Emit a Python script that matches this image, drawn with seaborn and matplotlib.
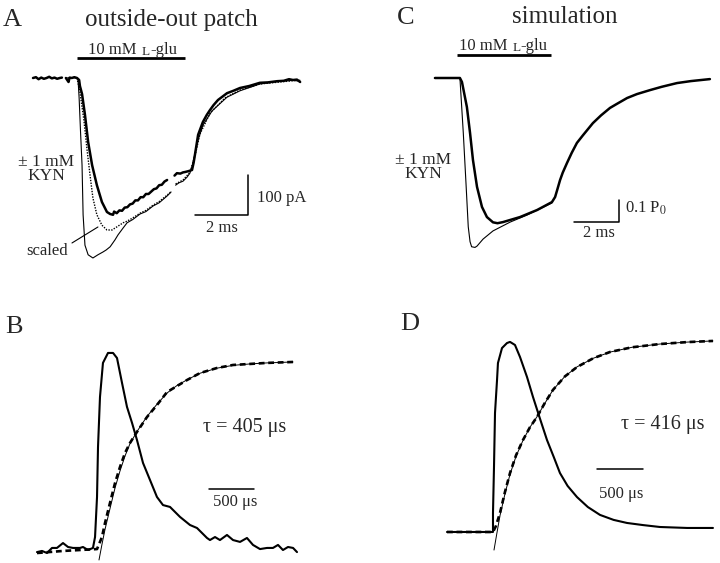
import matplotlib
matplotlib.use("Agg")
import matplotlib.pyplot as plt
import seaborn as sns

# ---------------- panel A: outside-out patch (time ms, current pA) ----------------
a_kyn_pre_t = [-1.66, -1.55, -1.45, -1.35, -1.25, -1.15, -1.05, -0.95, -0.85, -0.75, -0.65, -0.57]
a_kyn_pre_i = [0, 2, -3, 1, -2, 0, 3, -1, 1, -2, 0, 1]
a_kyn_t = [-0.42, -0.36, -0.32, -0.28, -0.2, -0.1, 0.0, 0.08, 0.11, 0.19, 0.30, 0.42, 0.57, 0.75,
           0.94, 1.13, 1.25, 1.36, 1.4, 1.5, 1.6, 1.7, 1.8, 1.9, 2.0, 2.1, 2.2, 2.3, 2.4, 2.5,
           2.6, 2.7, 2.8, 2.9, 3.0, 3.1, 3.2, 3.3, 3.4]
a_kyn_i = [0, -6, -10, 1, 0, 2, 0, -5, -20, -40, -92, -160, -218, -268,
           -310, -335, -340, -342, -334, -338, -331, -332, -324, -323, -316, -314, -306, -306, -298, -298,
           -290, -290, -284, -278, -276, -268, -267, -259, -255]
a_kyn_post_t = [3.68, 3.77, 3.9, 4.0, 4.08, 4.2, 4.34, 4.40, 4.45, 4.57, 4.75, 4.9, 5.02, 5.15, 5.32,
                5.5, 5.66, 5.9, 6.15, 6.5, 6.9, 7.2, 7.55, 7.8, 8.0, 8.15, 8.3, 8.42]
a_kyn_post_i = [-244, -238, -239, -236, -235, -233, -230, -212, -192, -142, -110, -92, -80, -68, -55,
                -46, -38, -32, -25, -20, -12, -11, -8, -7, -3, -5, -4, -10]

a_ctrl_t = [-0.4, -0.2, 0.0, 0.04, 0.08, 0.13, 0.19, 0.23, 0.30, 0.42, 0.60, 0.79, 0.98, 1.1, 1.25,
            1.43, 1.55, 1.74, 1.89, 2.1, 2.38, 2.6, 2.87, 3.1, 3.4, 3.55]
a_ctrl_i = [0, 1, 0, -5, -50, -130, -218, -342, -418, -442, -450, -442, -435, -430, -422,
            -405, -392, -375, -362, -354, -340, -334, -320, -312, -295, -285]
a_ctrl_post_t = [3.72, 3.85, 4.0, 4.15, 4.26, 4.34, 4.45, 4.57, 4.75, 5.1, 5.66, 6.15, 6.9, 7.55, 8.15, 8.42]
a_ctrl_post_i = [-268, -262, -258, -248, -238, -222, -190, -155, -118, -82, -48, -32, -15, -9, -6, -8]

a_scaled_t = [0.0, 0.11, 0.26, 0.38, 0.49, 0.60, 0.75, 0.94, 1.13, 1.32, 1.51, 1.74, 1.89, 2.1,
              2.38, 2.6, 2.87, 3.1, 3.4, 3.55]
a_scaled_i = [0, -35, -105, -180, -242, -300, -342, -368, -380, -380, -372, -362, -358, -350,
              -338, -331, -318, -309, -293, -284]
a_scaled_post_t = [3.72, 4.0, 4.26, 4.45, 4.64, 5.02, 5.58, 6.15, 6.9, 8.42]
a_scaled_post_i = [-265, -255, -236, -195, -140, -88, -50, -30, -15, -5]

a_glu = (0.0, 4.08)          # application, ms
a_bar_ms, a_bar_pa = 2, 100  # scale bars

# ---------------- panel C: simulation (time ms, open probability) ----------------
c_kyn_t = [-0.98, 0.13, 0.22, 0.44, 0.58, 0.71, 0.89, 1.11, 1.33, 1.6, 1.8, 2.04, 2.8, 3.56, 4.22,
           4.36, 4.45, 4.58, 4.7, 4.89, 5.1, 5.33, 5.6, 6.04, 6.4, 6.8, 7.1, 7.56, 8.0, 8.58,
           9.1, 9.78, 10.4, 11.24]
c_kyn_p = [0, 0, -0.018, -0.132, -0.25, -0.373, -0.495, -0.586, -0.632, -0.656, -0.66, -0.655, -0.632, -0.60,
           -0.564, -0.541, -0.51, -0.464, -0.43, -0.386, -0.34, -0.295, -0.26, -0.205, -0.17, -0.136,
           -0.118, -0.091, -0.073, -0.055, -0.04, -0.023, -0.014, -0.005]
c_ctrl_t = [0.13, 0.28, 0.40, 0.50, 0.58, 0.65, 0.8, 0.89, 1.16, 1.6, 2.36, 3.11, 4.22]
c_ctrl_p = [0, -0.25, -0.479, -0.676, -0.744, -0.767, -0.77, -0.764, -0.732, -0.695, -0.655, -0.623, -0.568]
c_glu = (0.0, 4.18)
c_bar_ms, c_bar_p = 2, 0.1

# ---------------- panel B: normalised recording (time ms) ----------------
b_peak_t = [-0.689, -0.633, -0.578, -0.522, -0.467, -0.4, -0.344, -0.289, -0.211, -0.178, -0.122,
            -0.067, -0.044, -0.022, -0.011, 0.011, 0.044, 0.1, 0.156, 0.2, 0.256, 0.311, 0.367,
            0.422, 0.489, 0.567, 0.644, 0.711, 0.789, 0.9, 1.011, 1.089, 1.2, 1.233, 1.289, 1.344,
            1.422, 1.489, 1.567, 1.644, 1.711, 1.789, 1.867, 1.933, 1.989, 2.044, 2.1, 2.156, 2.2]
b_peak_v = [-0.011, -0.005, -0.016, 0.011, 0.011, 0.037, 0.016, 0.011, 0.011, 0.016, 0.0,
            0.011, 0.069, 0.282, 0.548, 0.814, 0.995, 1.048, 1.048, 1.021, 0.888, 0.761, 0.676,
            0.585, 0.463, 0.372, 0.282, 0.239, 0.229, 0.176, 0.133, 0.117, 0.064, 0.053, 0.069, 0.053,
            0.08, 0.053, 0.043, 0.064, 0.027, 0.005, 0.011, 0.011, 0.027, 0.0, 0.016, 0.011, -0.011]
b_rise_t = [-0.689, -0.4, -0.022, 0.033, 0.067, 0.122, 0.178, 0.233, 0.289, 0.344, 0.422, 0.533,
            0.644, 0.756, 0.978, 1.122, 1.311, 1.489, 1.867, 2.156]
b_rise_v = [-0.016, -0.005, 0.005, 0.069, 0.144, 0.25, 0.356, 0.441, 0.516, 0.569, 0.628, 0.707,
            0.771, 0.84, 0.904, 0.941, 0.968, 0.984, 0.995, 1.0]
b_fit_t = [0.0, 0.033, 0.067, 0.122, 0.178, 0.233, 0.289, 0.344, 0.422, 0.533, 0.644, 0.756,
           0.867, 0.978, 1.122, 1.311, 1.489, 1.689, 1.867, 2.156]
b_fit_v = [-0.053, 0.03, 0.11, 0.22, 0.33, 0.42, 0.5, 0.565, 0.63, 0.71, 0.775, 0.835,
           0.875, 0.905, 0.94, 0.967, 0.982, 0.99, 0.995, 1.0]
b_tau_us = 405

# ---------------- panel D: normalised simulation (time ms) ----------------
d_peak_t = [-0.511, -0.011, -0.011, 0.0, 0.011, 0.033, 0.043, 0.087, 0.141, 0.174, 0.228, 0.283,
            0.359, 0.424, 0.5, 0.576, 0.65, 0.717, 0.8, 0.902, 1.02, 1.152, 1.3, 1.446, 1.62,
            1.804, 2.1, 2.38]
d_peak_v = [0, 0, 0.099, 0.339, 0.62, 0.792, 0.88, 0.958, 0.984, 0.99, 0.974, 0.911,
            0.807, 0.703, 0.59, 0.479, 0.39, 0.307, 0.24, 0.182, 0.13, 0.089, 0.063, 0.047, 0.036,
            0.026, 0.021, 0.021]
d_rise_t = [-0.511, -0.011, 0.02, 0.065, 0.12, 0.174, 0.24, 0.315, 0.39, 0.467, 0.55, 0.641,
            0.77, 0.902, 1.08, 1.261, 1.5, 1.804, 2.1, 2.38]
d_rise_v = [0, 0, 0.03, 0.099, 0.21, 0.307, 0.4, 0.479, 0.545, 0.599, 0.67, 0.74,
            0.81, 0.859, 0.905, 0.9375, 0.962, 0.979, 0.989, 0.995]
d_fit_t = [0.0, 0.03, 0.065, 0.12, 0.174, 0.24, 0.315, 0.39, 0.467, 0.55, 0.641, 0.77,
           0.902, 1.08, 1.261, 1.5, 1.804, 2.1, 2.38]
d_fit_v = [-0.094, -0.01, 0.085, 0.2, 0.3, 0.395, 0.477, 0.545, 0.6, 0.668, 0.74, 0.81,
           0.86, 0.905, 0.937, 0.962, 0.979, 0.989, 0.995]
d_tau_us = 416
bd_bar_ms = 0.5

sns.set_style("white")
plt.rcParams["font.family"] = ["Liberation Serif", "DejaVu Serif"]
plt.rcParams["mathtext.fontset"] = "stix"

fig = plt.figure(figsize=(7.2, 5.63), dpi=100)
ax_a = fig.add_axes([0.0, 0.5027, 0.5, 0.4973])
ax_c = fig.add_axes([0.5, 0.5027, 0.5, 0.4973])
ax_b = fig.add_axes([0.0, 0.0, 0.5, 0.5027])
ax_d = fig.add_axes([0.5, 0.0, 0.5, 0.5027])
ax_a.set(xlim=(-2.906, 10.679), ylim=(-505, 195))
ax_c.set(xlim=(-4.311, 11.689), ylim=(-0.918, 0.3545))
ax_b.set(xlim=(-1.1, 2.9), ylim=(-0.0691, 1.436))
ax_d.set(xlim=(-1.4565, 2.4565), ylim=(-0.1615, 1.3125))


def trace(ax, t, y, **kw):
    sns.lineplot(x=t, y=y, ax=ax, estimator=None, sort=False, color="black", **kw)


def glu_label(ax, x, y):
    t1 = ax.text(x, y, "10 mM", ha="right", va="baseline", fontsize=12)
    t2 = ax.annotate("L", xy=(1, 0), xycoords=t1, xytext=(3.5, 0), textcoords="offset points",
                     ha="left", va="bottom", fontsize=9.5)
    ax.annotate("-glu", xy=(1, 0), xycoords=t2, ha="left", va="bottom", fontsize=12)


def kyn_label(ax, x, y):
    # y is the baseline of the lower line
    ax.text(x, y, "± 1 mM\nKYN", ha="center", va="baseline", multialignment="center",
            fontsize=12.5, linespacing=0.82)


# ----- A -----
trace(ax_a, a_ctrl_t, a_ctrl_i, lw=0.8)
trace(ax_a, a_ctrl_post_t, a_ctrl_post_i, lw=0.8)
trace(ax_a, a_scaled_t, a_scaled_i, lw=1.0, linestyle=(0, (1, 1)))
trace(ax_a, a_scaled_post_t, a_scaled_post_i, lw=1.0, linestyle=(0, (1, 1)))
trace(ax_a, a_kyn_pre_t, a_kyn_pre_i, lw=1.8)
trace(ax_a, a_kyn_t, a_kyn_i, lw=1.8)
trace(ax_a, a_kyn_post_t, a_kyn_post_i, lw=1.8)
ax_a.plot(a_glu, [51, 51], color="black", lw=2.0, solid_capstyle="butt")
glu_label(ax_a, 2.26, 60)
ax_a.plot([6.45 - a_bar_ms, 6.45, 6.45], [-342.5, -342.5, -342.5 + a_bar_pa], color="black", lw=1.1)
ax_a.text(6.79, -310, f"{a_bar_pa} pA", ha="left", va="baseline", fontsize=12)
ax_a.text(5.47, -385, f"{a_bar_ms} ms", ha="center", va="baseline", fontsize=12)
kyn_label(ax_a, -1.17, -255)
ax_a.text(-1.13, -442.5, "scaled", ha="center", va="baseline", fontsize=12)
ax_a.plot([-0.19, 0.79], [-412.5, -372.5], color="black", lw=0.8)

# ----- C -----
trace(ax_c, c_ctrl_t, c_ctrl_p, lw=0.8)
trace(ax_c, c_kyn_t, c_kyn_p, lw=1.8)
ax_c.plot(c_glu, [0.1045, 0.1045], color="black", lw=2.0, solid_capstyle="butt")
glu_label(ax_c, 2.25, 0.127)
ax_c.plot([7.2 - c_bar_ms, 7.2, 7.2], [-0.6545, -0.6545, -0.6545 + c_bar_p], color="black", lw=1.1)
ax_c.text(7.47, -0.614, f"{c_bar_p} P$_0$", ha="left", va="baseline", fontsize=12)
ax_c.text(6.29, -0.723, f"{c_bar_ms} ms", ha="center", va="baseline", fontsize=12)
kyn_label(ax_c, -1.49, -0.455)

# ----- B -----
trace(ax_b, b_rise_t, b_rise_v, lw=1.9, linestyle=(0, (2.2, 1.4)))
trace(ax_b, b_fit_t, b_fit_v, lw=0.7)
trace(ax_b, b_peak_t, b_peak_v, lw=1.5)
ax_b.plot([1.222, 1.222 + bd_bar_ms], [0.324, 0.324], color="black", lw=1.1)
ax_b.text(1.511, 0.234, "500 μs", ha="center", va="baseline", fontsize=12)
ax_b.text(1.622, 0.628, f"τ = {b_tau_us} μs", ha="center", va="baseline", fontsize=14.5)

# ----- D -----
trace(ax_d, d_rise_t, d_rise_v, lw=1.9, linestyle=(0, (2.2, 1.4)))
trace(ax_d, d_fit_t, d_fit_v, lw=0.7)
trace(ax_d, d_peak_t, d_peak_v, lw=1.5)
ax_d.plot([1.12, 1.12 + bd_bar_ms], [0.328, 0.328], color="black", lw=1.1)
ax_d.text(1.38, 0.177, "500 μs", ha="center", va="baseline", fontsize=12)
ax_d.text(1.837, 0.536, f"τ = {d_tau_us} μs", ha="center", va="baseline", fontsize=14.5)

for ax in (ax_a, ax_b, ax_c, ax_d):
    ax.set_axis_off()

H = 563.0
fig.text(3 / 720, 1 - 26 / H, "A", fontsize=19, va="baseline", ha="left")
fig.text(171 / 720, 1 - 26 / H, "outside-out patch", fontsize=18, va="baseline", ha="center")
fig.text(397 / 720, 1 - 24 / H, "C", fontsize=19, va="baseline", ha="left")
fig.text(565 / 720, 1 - 23 / H, "simulation", fontsize=18, va="baseline", ha="center")
fig.text(5 / 720, 1 - 333 / H, "B", fontsize=19, va="baseline", ha="left")
fig.text(400 / 720, 1 - 330 / H, "D", fontsize=19, va="baseline", ha="left")

fig.savefig("out.png", dpi=100)
